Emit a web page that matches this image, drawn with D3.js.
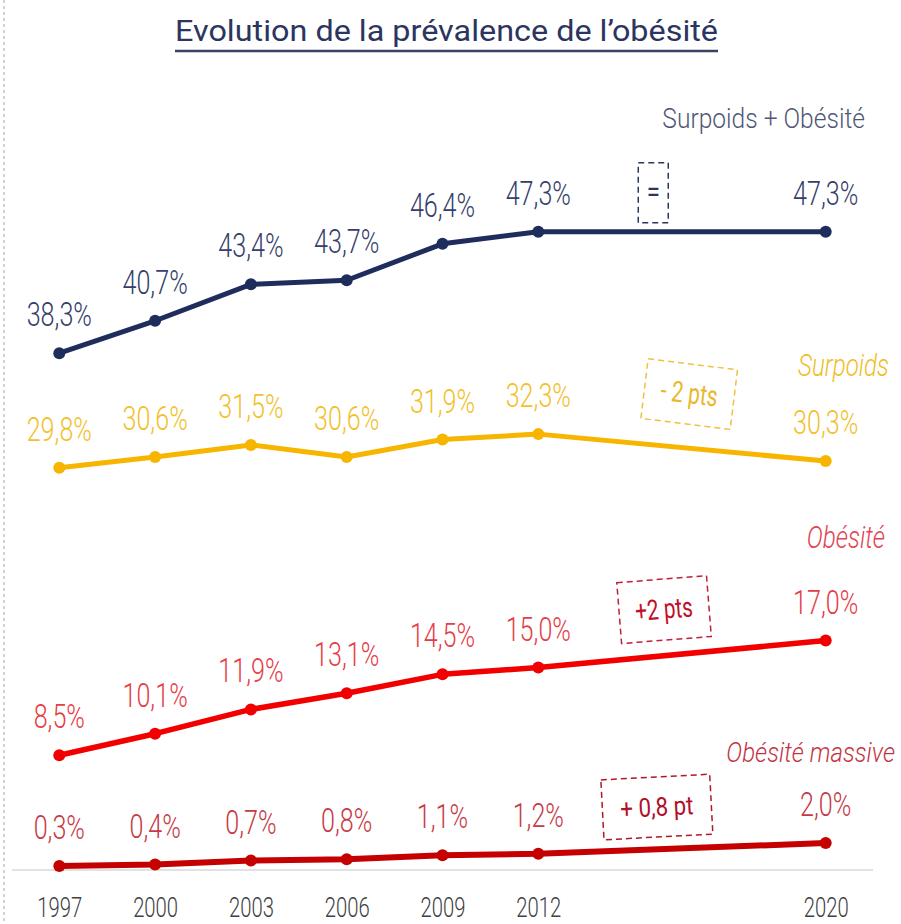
<!DOCTYPE html>
<html lang="fr">
<head>
	<meta charset="utf-8">
	<title>Evolution de la prévalence de l'obésité</title>
	<script src="https://cdn.jsdelivr.net/npm/d3@7/dist/d3.min.js"></script>
	<style>
		body {
			margin: 0;
			background: #fff;
		}
		svg text {
			font-family: Roboto, "Liberation Sans", sans-serif;
			font-weight: 300;
		}
	</style>
</head>
<body>
	<script>
		// Data
		var years = [1997, 2000, 2003, 2006, 2009, 2012, 2020];
		var surpoidsObesite = [38.3, 40.7, 43.4, 43.7, 46.4, 47.3, 47.3];
		var surpoids = [29.8, 30.6, 31.5, 30.6, 31.9, 32.3, 30.3];
		var obesite = [8.5, 10.1, 11.9, 13.1, 14.5, 15.0, 17.0];
		var obesiteMassive = [0.3, 0.4, 0.7, 0.8, 1.1, 1.2, 2.0];
		var seriesNames = ["Surpoids + Obésité", "Surpoids", "Obésité", "Obésité massive"];
		var changes = ["=", "- 2 pts", "+2 pts", "+ 0,8 pt"];
		var title = "Evolution de la prévalence de l’obésité";

		var width = 901;
		var height = 924;

		var svg = d3.select("body")
			.append("svg")
			.attr("width", width)
			.attr("height", height);

		// 2012 -> 2020 is squeezed into three slots, like the original
		var x = d3.scaleLinear()
			.domain([1997, 2012, 2020])
			.range([59.3, 538.3, 825.7]);

		var y = d3.scaleLinear()
			.domain([0, 47.3])
			.range([870, 231.7]);

		var fmt = function(v) { return d3.format(".1f")(v).replace(".", ",") + "%"; };

		// the original font is tall and narrow (Calibri light), so squeeze x
		function label(g, px, py, str, o) {
			return g.append("text")
				.attr("transform", "translate(" + px + "," + py + ") scale(" + (o.sx || 1) + "," + (o.sy || 1) + ")")
				.attr("text-anchor", o.anchor || "middle")
				.attr("font-size", o.size)
				.attr("font-style", o.italic ? "italic" : null)
				.style("font-weight", o.weight || null)
				.attr("fill", o.color)
				.text(str);
		}

		// dotted frame edge on the left
		svg.append("line")
			.attr("x1", 4).attr("x2", 4)
			.attr("y1", 0).attr("y2", height)
			.attr("stroke", "#a9a9a9")
			.attr("stroke-width", 1)
			.attr("stroke-dasharray", "3,3");

		// title + underline
		svg.append("text")
			.attr("x", 446.5)
			.attr("y", 41)
			.attr("text-anchor", "middle")
			.attr("font-size", 30)
			.style("font-weight", 400)
			.attr("textLength", 543)
			.attr("lengthAdjust", "spacingAndGlyphs")
			.attr("fill", "#2b3560")
			.text(title);
		svg.append("line")
			.attr("x1", 175).attr("x2", 718)
			.attr("y1", 51).attr("y2", 51)
			.attr("stroke", "#3a4166")
			.attr("stroke-width", 2.5);

		// baseline axis
		svg.append("line")
			.attr("x1", 12).attr("x2", 873)
			.attr("y1", y(0)).attr("y2", y(0))
			.attr("stroke", "#d9d9d9")
			.attr("stroke-width", 1.5);

		var xAxis = svg.append("g")
			.attr("transform", "translate(0," + y(0) + ")")
			.call(d3.axisBottom(x).tickValues(years).tickFormat(d3.format("d")).tickSize(0));
		xAxis.select(".domain").remove();
		xAxis.selectAll("text")
			.attr("y", 0).attr("dy", 0)
			.attr("font-size", 27)
			.attr("fill", "#404040")
			.attr("transform", "translate(0,47) scale(0.75,1)");

		var series = [
			{ name: seriesNames[0], values: surpoidsObesite, line: "#1f2d5c", text: "#34406b", width: 5,
				nameOpt: { size: 27, sx: 0.91, color: "#505775" }, nameAt: [865, 128] },
			{ name: seriesNames[1], values: surpoids, line: "#f7b500", text: "#f2bf2c", width: 5,
				nameOpt: { size: 31, sx: 0.78, color: "#f0bd28", italic: true }, nameAt: [889, 376] },
			{ name: seriesNames[2], values: obesite, line: "#f20000", text: "#e63c46", width: 5.5,
				nameOpt: { size: 32, sx: 0.76, color: "#df4452", italic: true }, nameAt: [885, 548] },
			{ name: seriesNames[3], values: obesiteMassive, line: "#c40000", text: "#c63a46", width: 6,
				nameOpt: { size: 28, sx: 0.86, color: "#c43444", italic: true }, nameAt: [895, 762] }
		];

		var line = d3.line()
			.x(function(d) { return x(d.year); })
			.y(function(d) { return y(d.value); });

		series.forEach(function(s) {
			var pts = years.map(function(yr, i) { return { year: yr, value: s.values[i] }; });
			var g = svg.append("g");

			g.append("path")
				.datum(pts)
				.attr("d", line)
				.attr("fill", "none")
				.attr("stroke", s.line)
				.attr("stroke-width", s.width)
				.attr("stroke-linejoin", "round");

			g.selectAll("circle")
				.data(pts)
				.enter()
				.append("circle")
				.attr("cx", function(d) { return x(d.year); })
				.attr("cy", function(d) { return y(d.value); })
				.attr("r", 6)
				.attr("fill", s.line);

			pts.forEach(function(d) {
				label(g, x(d.year), y(d.value) - 27, fmt(d.value), { size: 34, sx: 0.74, color: s.text });
			});

			var o = Object.assign({ anchor: "end" }, s.nameOpt);
			label(g, s.nameAt[0], s.nameAt[1], s.name, o);
		});

		// dashed change boxes between 2012 and 2020
		var boxes = [
			{ text: changes[0], year: 2015.2, cy: y(47.3) - 39, w: 30, h: 60, rot: 0, stroke: "#2a3560", color: "#2a3560", size: 30, sx: 0.8 },
			{ text: changes[1], year: 2016.2, cy: y(30.3) - 67, w: 90, h: 60, rot: 7, stroke: "#f0c040", color: "#e9b82c", size: 29, sx: 0.72 },
			{ text: changes[2], year: 2015.5, cy: y(17.0) - 31, w: 90, h: 61, rot: -4.5, stroke: "#c0203a", color: "#c0102a", size: 28, sx: 0.74 },
			{ text: changes[3], year: 2015.3, cy: y(2.0) - 36, w: 109, h: 60, rot: -3, stroke: "#b01828", color: "#b0102a", size: 26, sx: 0.86 }
		];

		boxes.forEach(function(b) {
			var g = svg.append("g")
				.attr("transform", "translate(" + x(b.year) + "," + b.cy + ") rotate(" + b.rot + ")");
			g.append("rect")
				.attr("x", -b.w / 2).attr("y", -b.h / 2)
				.attr("width", b.w).attr("height", b.h)
				.attr("fill", "#fff")
				.attr("stroke", b.stroke)
				.attr("stroke-width", 1.5)
				.attr("stroke-dasharray", "6,4");
			label(g, 0, 9, b.text, { size: b.size, sx: b.sx, color: b.color, weight: 400 });
		});
	</script>
</body>
</html>
